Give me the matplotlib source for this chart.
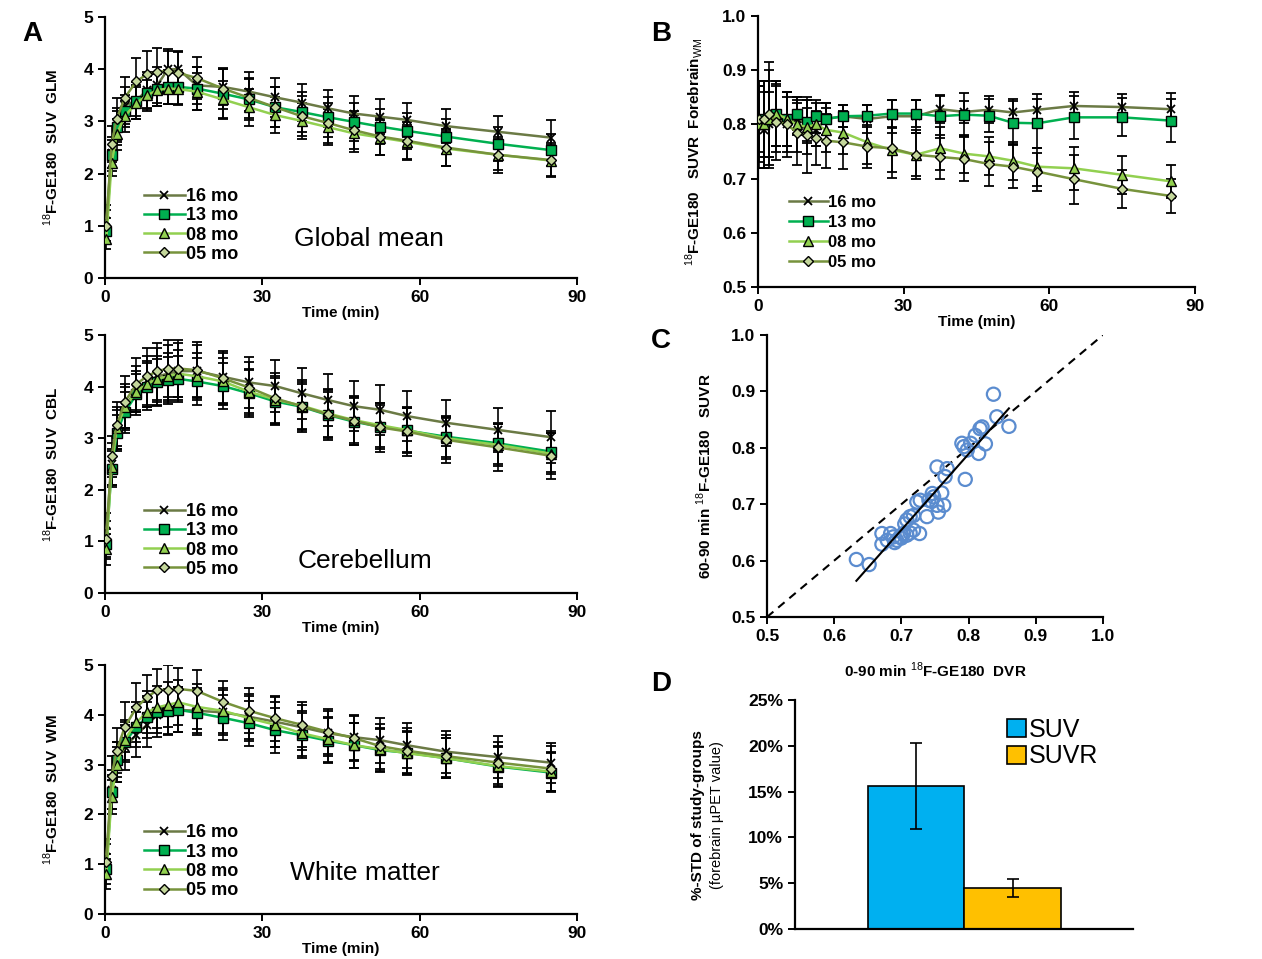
import numpy as np
import matplotlib
matplotlib.use("Agg")
import matplotlib.pyplot as plt
from matplotlib.ticker import PercentFormatter, FormatStrFormatter

plt.rcParams['font.family'] = ['Liberation Sans', 'DejaVu Sans']
plt.rcParams['mathtext.fontset'] = 'custom'
plt.rcParams['mathtext.rm'] = 'Liberation Sans'
plt.rcParams['mathtext.bf'] = 'Liberation Sans:bold'

# frame mid times (min)
t = [0.25, 1.25, 2.25, 3.75, 6, 8, 10, 12, 14, 17.5, 22.5, 27.5, 32.5,
     37.5, 42.5, 47.5, 52.5, 57.5, 65, 75, 85]
groups = ['16 mo', '13 mo', '08 mo', '05 mo']

# Global mean SUV
glm_16 = [1.10, 2.40, 2.90, 3.30, 3.40, 3.60, 3.70, 4.00, 4.00, 3.69, 3.66, 3.57, 3.46, 3.36, 3.25, 3.15, 3.09, 3.03, 2.91, 2.80, 2.69]
glm_13 = [0.90, 2.35, 2.90, 3.20, 3.40, 3.55, 3.62, 3.66, 3.66, 3.63, 3.53, 3.42, 3.27, 3.18, 3.08, 2.99, 2.90, 2.82, 2.71, 2.57, 2.45]
glm_08 = [0.75, 2.20, 2.75, 3.10, 3.35, 3.50, 3.60, 3.63, 3.62, 3.57, 3.42, 3.27, 3.12, 3.01, 2.89, 2.77, 2.69, 2.61, 2.48, 2.36, 2.25]
glm_05 = [1.00, 2.57, 3.05, 3.45, 3.77, 3.90, 3.95, 3.97, 3.93, 3.83, 3.63, 3.45, 3.27, 3.10, 2.97, 2.83, 2.71, 2.63, 2.50, 2.36, 2.26]
glm_sd_16 = [0.30, 0.30, 0.35, 0.35, 0.35, 0.35, 0.35, 0.35, 0.35, 0.35, 0.35, 0.38, 0.38, 0.35, 0.35, 0.33, 0.33, 0.33, 0.33, 0.30, 0.33]
glm_sd_13 = [0.25, 0.30, 0.30, 0.30, 0.30, 0.32, 0.32, 0.32, 0.32, 0.42, 0.48, 0.40, 0.38, 0.38, 0.38, 0.36, 0.34, 0.34, 0.33, 0.32, 0.30]
glm_sd_08 = [0.20, 0.25, 0.30, 0.30, 0.30, 0.30, 0.30, 0.30, 0.30, 0.35, 0.35, 0.35, 0.35, 0.35, 0.35, 0.35, 0.33, 0.33, 0.33, 0.30, 0.30]
glm_sd_05 = [0.30, 0.35, 0.40, 0.40, 0.45, 0.45, 0.45, 0.42, 0.40, 0.40, 0.40, 0.38, 0.38, 0.38, 0.38, 0.36, 0.36, 0.36, 0.35, 0.34, 0.33]

# Cerebellum SUV
cbl_16 = [1.20, 2.50, 3.20, 3.60, 3.95, 4.10, 4.20, 4.25, 4.30, 4.30, 4.19, 4.08, 4.01, 3.87, 3.74, 3.62, 3.55, 3.43, 3.30, 3.16, 3.02]
cbl_13 = [0.95, 2.40, 3.10, 3.50, 3.85, 4.00, 4.08, 4.12, 4.15, 4.10, 4.01, 3.87, 3.71, 3.61, 3.45, 3.32, 3.22, 3.15, 3.03, 2.90, 2.74]
cbl_08 = [0.85, 2.45, 3.20, 3.60, 3.90, 4.05, 4.15, 4.20, 4.25, 4.20, 4.10, 3.90, 3.75, 3.63, 3.48, 3.35, 3.25, 3.16, 3.00, 2.87, 2.70]
cbl_05 = [1.05, 2.65, 3.25, 3.70, 4.05, 4.20, 4.30, 4.35, 4.35, 4.32, 4.16, 3.98, 3.77, 3.62, 3.46, 3.34, 3.21, 3.13, 2.97, 2.82, 2.66]
cbl_sd_16 = [0.35, 0.40, 0.40, 0.45, 0.45, 0.50, 0.55, 0.55, 0.55, 0.50, 0.50, 0.50, 0.50, 0.50, 0.50, 0.48, 0.48, 0.48, 0.45, 0.42, 0.50]
cbl_sd_13 = [0.30, 0.35, 0.35, 0.40, 0.40, 0.45, 0.45, 0.45, 0.45, 0.45, 0.45, 0.45, 0.45, 0.45, 0.45, 0.45, 0.43, 0.43, 0.40, 0.40, 0.40]
cbl_sd_08 = [0.30, 0.35, 0.35, 0.40, 0.40, 0.45, 0.45, 0.45, 0.45, 0.45, 0.45, 0.45, 0.45, 0.45, 0.45, 0.45, 0.43, 0.43, 0.40, 0.40, 0.40]
cbl_sd_05 = [0.35, 0.40, 0.45, 0.50, 0.50, 0.55, 0.55, 0.55, 0.55, 0.55, 0.50, 0.50, 0.50, 0.50, 0.50, 0.48, 0.48, 0.48, 0.45, 0.45, 0.45]

# White matter SUV
wm_16 = [1.15, 2.50, 3.05, 3.35, 3.60, 3.80, 4.00, 4.05, 4.10, 4.08, 4.05, 3.96, 3.86, 3.75, 3.63, 3.55, 3.49, 3.39, 3.26, 3.15, 3.04]
wm_13 = [0.90, 2.45, 3.10, 3.45, 3.75, 3.95, 4.05, 4.07, 4.10, 4.04, 3.94, 3.83, 3.69, 3.59, 3.48, 3.39, 3.29, 3.24, 3.13, 2.96, 2.84]
wm_08 = [0.80, 2.35, 3.00, 3.50, 3.85, 4.05, 4.15, 4.20, 4.25, 4.16, 4.08, 3.93, 3.80, 3.63, 3.51, 3.39, 3.31, 3.23, 3.13, 2.97, 2.86]
wm_05 = [1.05, 2.78, 3.28, 3.75, 4.15, 4.35, 4.50, 4.50, 4.52, 4.48, 4.26, 4.08, 3.93, 3.80, 3.66, 3.53, 3.37, 3.28, 3.17, 3.04, 2.92]
wm_sd_16 = [0.35, 0.40, 0.40, 0.45, 0.45, 0.45, 0.45, 0.45, 0.45, 0.45, 0.45, 0.45, 0.50, 0.45, 0.45, 0.45, 0.45, 0.45, 0.42, 0.42, 0.40]
wm_sd_13 = [0.30, 0.35, 0.35, 0.40, 0.40, 0.42, 0.42, 0.45, 0.45, 0.45, 0.45, 0.45, 0.45, 0.45, 0.45, 0.45, 0.43, 0.43, 0.40, 0.40, 0.40]
wm_sd_08 = [0.30, 0.35, 0.35, 0.40, 0.40, 0.42, 0.42, 0.45, 0.45, 0.45, 0.45, 0.45, 0.45, 0.45, 0.45, 0.45, 0.43, 0.43, 0.40, 0.40, 0.40]
wm_sd_05 = [0.35, 0.40, 0.45, 0.50, 0.48, 0.45, 0.42, 0.50, 0.42, 0.42, 0.42, 0.45, 0.45, 0.45, 0.45, 0.45, 0.45, 0.45, 0.42, 0.42, 0.45]

# SUVR forebrain / WM
suvr_16 = [0.800, 0.790, 0.800, 0.810, 0.800, 0.810, 0.800, 0.790, 0.810, 0.815, 0.810, 0.815, 0.815, 0.828, 0.823, 0.827, 0.822, 0.827, 0.834, 0.832, 0.828]
suvr_13 = [0.810, 0.800, 0.810, 0.820, 0.810, 0.820, 0.805, 0.815, 0.810, 0.815, 0.816, 0.820, 0.820, 0.815, 0.818, 0.816, 0.803, 0.802, 0.813, 0.813, 0.807]
suvr_08 = [0.800, 0.800, 0.810, 0.820, 0.810, 0.800, 0.795, 0.800, 0.790, 0.785, 0.767, 0.753, 0.744, 0.756, 0.746, 0.741, 0.733, 0.722, 0.719, 0.707, 0.695]
suvr_05 = [0.810, 0.810, 0.820, 0.805, 0.800, 0.785, 0.780, 0.775, 0.770, 0.767, 0.759, 0.756, 0.744, 0.740, 0.736, 0.727, 0.722, 0.713, 0.699, 0.681, 0.668]
suvr_sd_16 = [0.080, 0.070, 0.060, 0.060, 0.050, 0.030, 0.030, 0.030, 0.030, 0.020, 0.025, 0.030, 0.030, 0.025, 0.020, 0.025, 0.025, 0.030, 0.025, 0.025, 0.030]
suvr_sd_13 = [0.070, 0.080, 0.070, 0.060, 0.050, 0.030, 0.040, 0.030, 0.030, 0.020, 0.020, 0.025, 0.025, 0.040, 0.040, 0.030, 0.040, 0.045, 0.040, 0.035, 0.040]
suvr_sd_08 = [0.070, 0.080, 0.090, 0.060, 0.050, 0.050, 0.050, 0.040, 0.040, 0.040, 0.040, 0.040, 0.040, 0.040, 0.035, 0.035, 0.035, 0.035, 0.040, 0.035, 0.030]
suvr_sd_05 = [0.060, 0.070, 0.095, 0.070, 0.060, 0.060, 0.070, 0.050, 0.050, 0.050, 0.040, 0.055, 0.045, 0.040, 0.040, 0.040, 0.040, 0.035, 0.045, 0.035, 0.032]

# Panel C: DVR vs SUVR
dvr = [0.633, 0.652, 0.671, 0.671, 0.679, 0.684, 0.688, 0.693, 0.698, 0.703, 0.708, 0.713,
       0.718, 0.708, 0.713, 0.718, 0.727, 0.723, 0.728, 0.738, 0.741, 0.746, 0.748, 0.753,
       0.753, 0.755, 0.763, 0.765, 0.768, 0.790, 0.793, 0.795, 0.798, 0.803, 0.810, 0.815,
       0.817, 0.820, 0.825, 0.842, 0.837, 0.860, 0.690, 0.700, 0.705, 0.760, 0.745]
suvr_late = [0.602, 0.593, 0.648, 0.629, 0.636, 0.648, 0.642, 0.636, 0.642, 0.648, 0.645, 0.649,
             0.654, 0.672, 0.678, 0.680, 0.648, 0.704, 0.707, 0.678, 0.707, 0.719, 0.713, 0.698,
             0.766, 0.686, 0.698, 0.749, 0.763, 0.808, 0.802, 0.744, 0.796, 0.808, 0.822, 0.790,
             0.834, 0.837, 0.807, 0.855, 0.895, 0.838, 0.632, 0.640, 0.665, 0.720, 0.705]

# Panel D
d_labels = ['SUV', 'SUVR']
d_values = [15.6, 4.5]
d_err = [4.7, 1.0]

colors = ['#6b7a45', '#00b050', '#92d050', '#77933c']
faces = ['black', '#00b050', '#92d050', '#c4d79b']
markers = ['x', 's', '^', 'D']
msizes = [6, 7, 7, 5.5]

W, H = 1262, 959
fig = plt.figure(figsize=(W / 100, H / 100), dpi=100)


def box(x0, x1, ytop, ybot):
    return [x0 / W, 1 - ybot / H, (x1 - x0) / W, (ybot - ytop) / H]


def curves(ax, series, errs):
    handles = []
    for y, e in zip(series, errs):
        ax.errorbar(t, y, yerr=e, fmt='none', ecolor='black', elinewidth=1.2,
                    capsize=3.5, capthick=1.3, zorder=2)
    for i, y in enumerate(series):
        h, = ax.plot(t, y, color=colors[i], lw=1.8, marker=markers[i], ms=msizes[i],
                     mfc=faces[i], mec='black', mew=1.0 if markers[i] != 'x' else 1.3,
                     zorder=3, label=groups[i])
        handles.append(h)
    return handles


def style(ax):
    for s in ['top', 'right']:
        ax.spines[s].set_visible(False)
    for s in ['left', 'bottom']:
        ax.spines[s].set_linewidth(1.6)
    ax.tick_params(width=1.4, length=5, labelsize=12.5)
    for lab in ax.get_xticklabels() + ax.get_yticklabels():
        lab.set_fontweight('bold')


def legend_kw(size, hlen, spacing):
    return dict(loc='lower left', frameon=False, handlelength=hlen, labelspacing=spacing,
                handletextpad=0.05, borderpad=0.2, prop={'size': size, 'weight': 'bold'})


panelA = [
    (box(105, 577, 17, 278), [glm_16, glm_13, glm_08, glm_05],
     [glm_sd_16, glm_sd_13, glm_sd_08, glm_sd_05], 'GLM', 'Global mean', (0.56, 0.15)),
    (box(105, 577, 335, 593), [cbl_16, cbl_13, cbl_08, cbl_05],
     [cbl_sd_16, cbl_sd_13, cbl_sd_08, cbl_sd_05], 'CBL', 'Cerebellum', (0.55, 0.125)),
    (box(105, 577, 665, 914), [wm_16, wm_13, wm_08, wm_05],
     [wm_sd_16, wm_sd_13, wm_sd_08, wm_sd_05], 'WM', 'White matter', (0.55, 0.165)),
]
for rect, series, errs, reg, name, pos in panelA:
    ax = fig.add_axes(rect)
    hs = curves(ax, series, errs)
    ax.set_xlim(0, 90)
    ax.set_ylim(0, 5)
    ax.set_xticks([0, 30, 60, 90])
    ax.set_yticks(range(6))
    style(ax)
    ax.set_xlabel('Time (min)', fontsize=11, fontweight='bold', labelpad=1)
    ax.set_ylabel(r'$^{18}$F-GE180  SUV  ' + reg, fontsize=11, fontweight='bold', labelpad=16)
    ax.legend(handles=hs, bbox_to_anchor=(0.055, 0.01), **legend_kw(13, 2.3, 0.12))
    ax.text(pos[0], pos[1], name, transform=ax.transAxes, ha='center', va='center', fontsize=19)

# Panel B
axb = fig.add_axes(box(758, 1195, 16, 287))
hs = curves(axb, [suvr_16, suvr_13, suvr_08, suvr_05],
            [suvr_sd_16, suvr_sd_13, suvr_sd_08, suvr_sd_05])
axb.set_xlim(0, 90)
axb.set_ylim(0.5, 1.0)
axb.set_xticks([0, 30, 60, 90])
axb.set_yticks(np.arange(0.5, 1.01, 0.1))
axb.yaxis.set_major_formatter(FormatStrFormatter('%.1f'))
style(axb)
axb.set_xlabel('Time (min)', fontsize=11, fontweight='bold', labelpad=1)
axb.set_ylabel(r'$^{18}$F-GE180   SUVR  Forebrain$_{\mathrm{WM}}$', fontsize=11,
               fontweight='bold', labelpad=12)
axb.legend(handles=hs, bbox_to_anchor=(0.045, 0.02), **legend_kw(12, 2.3, 0.3))

# Panel C
axc = fig.add_axes(box(767, 1103, 335, 617))
axc.plot([0.5, 1.0], [0.5, 1.0], ls=(0, (4, 3)), color='black', lw=1.5, zorder=1)
axc.scatter(dvr, suvr_late, s=90, facecolors='none', edgecolors='#5b8ccf', linewidths=1.6, zorder=2)
k, b = np.polyfit(dvr, suvr_late, 1)
xf = np.array([min(dvr), max(dvr)])
axc.plot(xf, k * xf + b, color='black', lw=1.5, zorder=3)
axc.set_xlim(0.5, 1.0)
axc.set_ylim(0.5, 1.0)
axc.set_xticks(np.arange(0.5, 1.01, 0.1))
axc.set_yticks(np.arange(0.5, 1.01, 0.1))
axc.xaxis.set_major_formatter(FormatStrFormatter('%.1f'))
axc.yaxis.set_major_formatter(FormatStrFormatter('%.1f'))
style(axc)
axc.set_xlabel(r'0-90 min $^{18}$F-GE180  DVR', fontsize=11, fontweight='bold', labelpad=12)
axc.set_ylabel(r'60-90 min $^{18}$F-GE180   SUVR', fontsize=11, fontweight='bold', labelpad=12)

# Panel D
axd = fig.add_axes(box(795, 1133, 700, 929))
bars = axd.bar(range(len(d_values)), d_values, width=1.0, yerr=d_err,
               color=['#00b0f0', '#ffc000'], edgecolor='black', linewidth=1.2,
               error_kw=dict(ecolor='black', elinewidth=1.2, capsize=4, capthick=1.2))
axd.set_xlim(-1.26, 2.25)
axd.set_ylim(0, 25)
axd.set_yticks(range(0, 26, 5))
axd.yaxis.set_major_formatter(PercentFormatter(decimals=0))
axd.set_xticks([])
style(axd)
axd.legend(bars, d_labels, loc='upper left', bbox_to_anchor=(0.56, 1.02), frameon=False,
           handlelength=0.75, handleheight=0.75, handletextpad=0.15, labelspacing=0.1,
           fontsize=18)
fig.text(0.553, 0.15, '%-STD of study-groups', rotation=90, ha='center', va='center',
         fontsize=11, fontweight='bold')
fig.text(0.568, 0.15, '(forebrain \u00b5PET value)', rotation=90, ha='center', va='center',
         fontsize=10.5)

for letter, x, y in [('A', 0.018, 0.965), ('B', 0.516, 0.965), ('C', 0.516, 0.644), ('D', 0.516, 0.287)]:
    fig.text(x, y, letter, fontsize=20, fontweight='bold', ha='left', va='center')

fig.savefig('out.png', dpi=100)
